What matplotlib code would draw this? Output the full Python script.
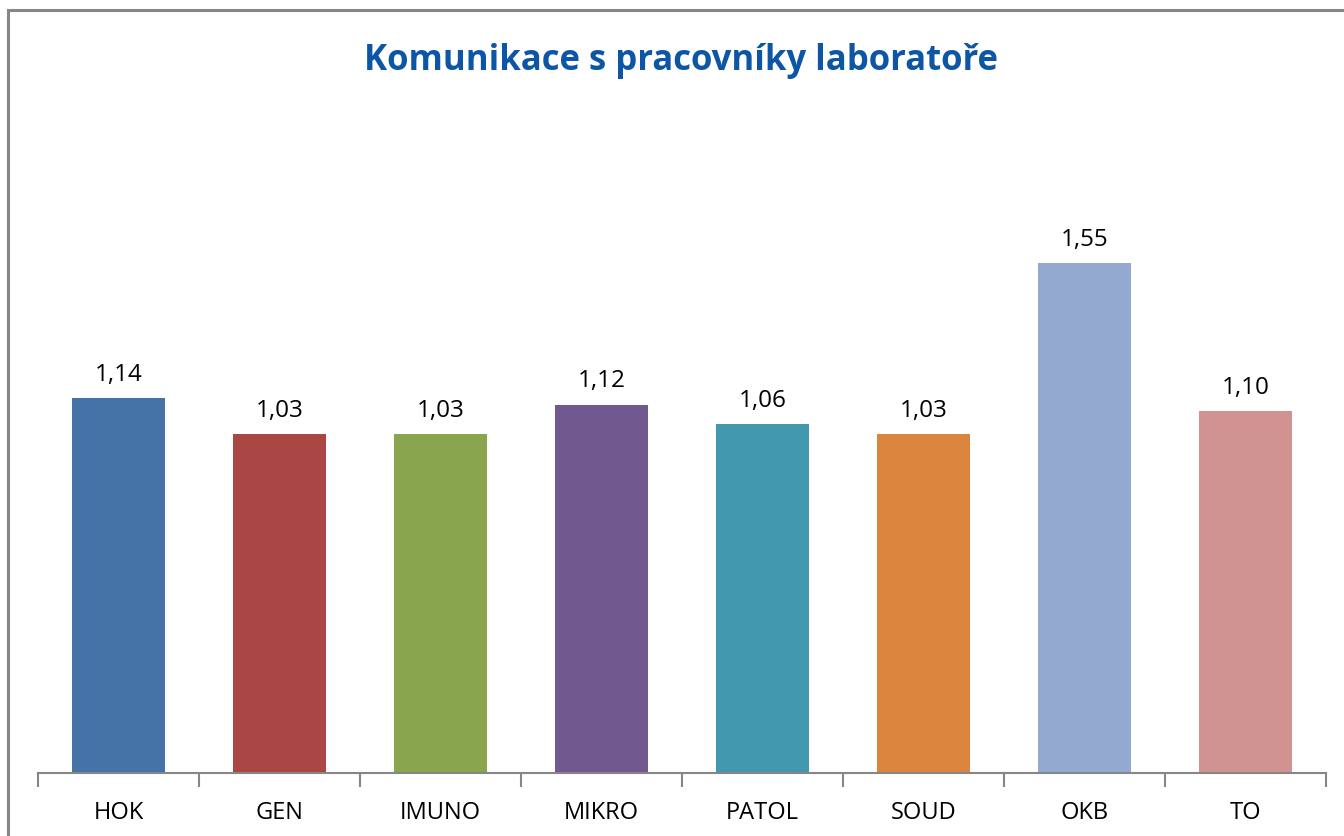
import matplotlib.pyplot as plt
from matplotlib.patches import Rectangle

labs = ["HOK", "GEN", "IMUNO", "MIKRO", "PATOL", "SOUD", "OKB", "TO"]
vals = [1.14, 1.03, 1.03, 1.12, 1.06, 1.03, 1.55, 1.10]
barvy = ["#4572A7", "#AA4643", "#89A54E", "#71588F", "#4198AF", "#DB843D", "#93A9CF", "#D19392"]

plt.rcParams['font.family'] = ['Open Sans', 'DejaVu Sans']

fig = plt.figure(figsize=(13.44, 8.36), dpi=100)
W, H = 1344, 836

# ramecek grafu (presahuje za okraj obrazku)
fig.patches.append(Rectangle((8 / W, -0.1), 1.2, (836 - 10) / H + 0.1, transform=fig.transFigure,
                             fill=False, edgecolor="#868686", linewidth=2.2))

ax = fig.add_axes([38 / W, 63 / H, (1326 - 38) / W, (773 - 115) / H])
x = range(len(labs))
bars = ax.bar(x, vals, width=0.58, color=barvy)

for b, v in zip(bars, vals):
    ax.annotate(f"{v:.2f}".replace(".", ","), (b.get_x() + b.get_width() / 2, v),
                xytext=(0, 8), textcoords="offset points", ha="center", va="bottom",
                fontsize=17.5, color="black")

ax.set_xlim(-0.5, len(labs) - 0.5)
ax.set_ylim(0, 2)
ax.set_xticks(list(x))
ax.set_xticklabels(labs, fontsize=17)
ax.tick_params(axis="x", length=0, pad=20)
ax.set_xticks([i - 0.5 for i in range(len(labs) + 1)], minor=True)
ax.tick_params(axis="x", which="minor", length=10, width=1.5, color="#868686")
ax.set_yticks([])
for s in ["top", "right", "left"]:
    ax.spines[s].set_visible(False)
ax.spines["bottom"].set_color("#868686")
ax.spines["bottom"].set_linewidth(1.5)

fig.text(0.507, 0.927, "Komunikace s pracovníky laboratoře", ha="center", va="center",
         fontsize=25, fontweight="bold", color="#0D56A6")

fig.savefig("out.png", dpi=100)
